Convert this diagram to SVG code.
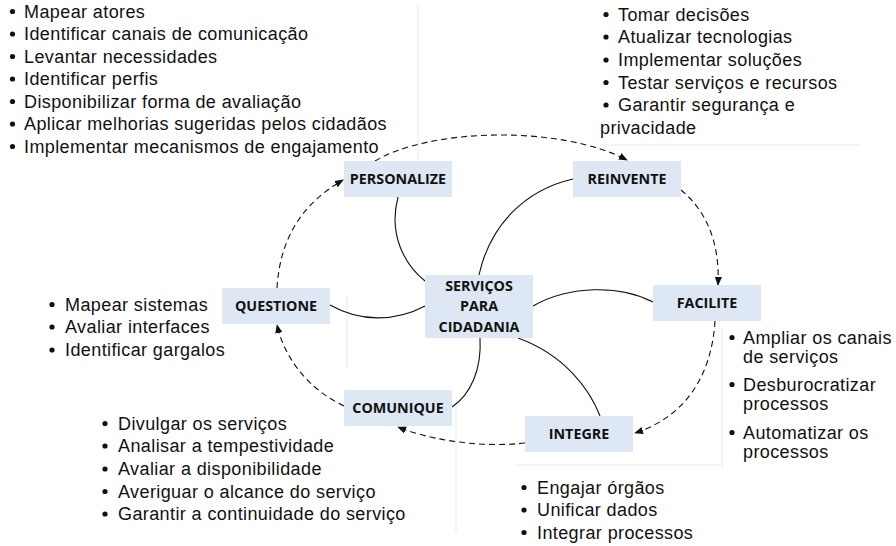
<svg xmlns="http://www.w3.org/2000/svg" width="896" height="546" viewBox="0 0 896 546">
<style>
.bx{fill:#dde8f4;}
.lb{font-family:"Open Sans","DejaVu Sans",sans-serif;font-weight:bold;font-size:14.3px;fill:#111;text-anchor:middle;}
.tx{font-family:"Liberation Sans",Arial,sans-serif;font-size:18px;letter-spacing:0.4px;fill:#111;}
.bl{fill:#111;}
.sl{fill:none;stroke:#111;stroke-width:1.1;}
.dl{fill:none;stroke:#111;stroke-width:1.1;stroke-dasharray:6,4;}
.fb{fill:none;stroke:#e6ecf3;stroke-width:1.2;}
</style>
<defs>
<marker id="ah" viewBox="0 0 10 10" refX="9" refY="5" markerWidth="9" markerHeight="9" markerUnits="userSpaceOnUse" orient="auto">
<path d="M0,1 L10,5 L0,9 Z" fill="#111"/>
</marker>
</defs>
<rect width="896" height="546" fill="#fff"/>

<g id="faint-borders">
<path class="fb" d="M418 5 V160"/>
<path class="fb" d="M600 145 H860"/>
<path class="fb" d="M347 296 V368"/>
<path class="fb" d="M456 400 V532"/>
<path class="fb" d="M515 465 H720"/>
<path class="fb" d="M722 328 V468"/>
</g>

<g id="connectors">
<path class="sl" d="M398 197 C388 235,405 265,425 281"/>
<path class="sl" d="M330 305 C360 322,395 322,425 306"/>
<path class="sl" d="M479 275 C490 225,525 190,573 179"/>
<path class="sl" d="M533 306 C570 285,620 285,653 302"/>
<path class="sl" d="M518 338 C565 355,590 390,600 416"/>
<path class="sl" d="M480 338 C482 370,470 395,452 407"/>
<path class="dl" d="M277 288 C280 240,300 205,343 180" marker-end="url(#ah)"/>
<path class="dl" d="M375 161 C430 128,560 125,627 160" marker-end="url(#ah)"/>
<path class="dl" d="M681 190 C705 210,720 240,718 285" marker-end="url(#ah)"/>
<path class="dl" d="M715 321 C712 370,690 415,635 433" marker-end="url(#ah)"/>
<path class="dl" d="M525 443 C480 448,430 440,398 427" marker-end="url(#ah)"/>
<path class="dl" d="M344 406 C310 390,285 360,277 325" marker-end="url(#ah)"/>
</g>

<g id="personalize">
<rect class="bx" x="344" y="161" width="108" height="36"/>
<text class="lb" x="398" y="184">PERSONALIZE</text>
</g>
<g id="reinvente">
<rect class="bx" x="573" y="161" width="108" height="36"/>
<text class="lb" x="627" y="184">REINVENTE</text>
</g>
<g id="questione">
<rect class="bx" x="222" y="288" width="108" height="36"/>
<text class="lb" x="276" y="311">QUESTIONE</text>
</g>
<g id="servicos">
<rect class="bx" x="425" y="275" width="108" height="63"/>
<text class="lb" x="479" y="290.5">SERVIÇOS</text>
<text class="lb" x="479" y="311">PARA</text>
<text class="lb" x="479" y="331.5">CIDADANIA</text>
</g>
<g id="facilite">
<rect class="bx" x="653" y="285" width="108" height="36"/>
<text class="lb" x="707" y="308">FACILITE</text>
</g>
<g id="comunique">
<rect class="bx" x="344" y="390" width="108" height="36"/>
<text class="lb" x="398" y="413">COMUNIQUE</text>
</g>
<g id="integre">
<rect class="bx" x="525" y="416" width="108" height="36"/>
<text class="lb" x="579" y="439">INTEGRE</text>
</g>

<g id="list-personalize">
<circle class="bl" cx="12.5" cy="11.5" r="2.6"/><text class="tx" x="24" y="17.5">Mapear atores</text>
<circle class="bl" cx="12.5" cy="34" r="2.6"/><text class="tx" x="24" y="40">Identificar canais de comunicação</text>
<circle class="bl" cx="12.5" cy="56.5" r="2.6"/><text class="tx" x="24" y="62.5">Levantar necessidades</text>
<circle class="bl" cx="12.5" cy="79" r="2.6"/><text class="tx" x="24" y="85">Identificar perfis</text>
<circle class="bl" cx="12.5" cy="101.5" r="2.6"/><text class="tx" x="24" y="107.5">Disponibilizar forma de avaliação</text>
<circle class="bl" cx="12.5" cy="124" r="2.6"/><text class="tx" x="24" y="130">Aplicar melhorias sugeridas pelos cidadãos</text>
<circle class="bl" cx="12.5" cy="146.5" r="2.6"/><text class="tx" x="24" y="152.5">Implementar mecanismos de engajamento</text>
</g>

<g id="list-reinvente">
<circle class="bl" cx="606" cy="14.5" r="2.6"/><text class="tx" x="618" y="20.5">Tomar decisões</text>
<circle class="bl" cx="606" cy="37" r="2.6"/><text class="tx" x="618" y="43">Atualizar tecnologias</text>
<circle class="bl" cx="606" cy="60" r="2.6"/><text class="tx" x="618" y="66">Implementar soluções</text>
<circle class="bl" cx="606" cy="82.5" r="2.6"/><text class="tx" x="618" y="88.5">Testar serviços e recursos</text>
<circle class="bl" cx="606" cy="105" r="2.6"/><text class="tx" x="618" y="111">Garantir segurança e</text>
<text class="tx" x="600" y="134">privacidade</text>
</g>

<g id="list-questione">
<circle class="bl" cx="52" cy="304.5" r="2.6"/><text class="tx" x="65" y="310.5">Mapear sistemas</text>
<circle class="bl" cx="52" cy="327" r="2.6"/><text class="tx" x="65" y="333">Avaliar interfaces</text>
<circle class="bl" cx="52" cy="350" r="2.6"/><text class="tx" x="65" y="356">Identificar gargalos</text>
</g>

<g id="list-comunique">
<circle class="bl" cx="105" cy="423.5" r="2.6"/><text class="tx" x="118" y="429.5">Divulgar os serviços</text>
<circle class="bl" cx="105" cy="446" r="2.6"/><text class="tx" x="118" y="452">Analisar a tempestividade</text>
<circle class="bl" cx="105" cy="469" r="2.6"/><text class="tx" x="118" y="475">Avaliar a disponibilidade</text>
<circle class="bl" cx="105" cy="491.5" r="2.6"/><text class="tx" x="118" y="497.5">Averiguar o alcance do serviço</text>
<circle class="bl" cx="105" cy="514" r="2.6"/><text class="tx" x="118" y="520">Garantir a continuidade do serviço</text>
</g>

<g id="list-integre">
<circle class="bl" cx="524" cy="487.5" r="2.6"/><text class="tx" x="537" y="493.5">Engajar órgãos</text>
<circle class="bl" cx="524" cy="510" r="2.6"/><text class="tx" x="537" y="516">Unificar dados</text>
<circle class="bl" cx="524" cy="532.5" r="2.6"/><text class="tx" x="537" y="538.5">Integrar processos</text>
</g>

<g id="list-facilite">
<circle class="bl" cx="732" cy="337.5" r="2.6"/><text class="tx" x="743" y="343.5">Ampliar os canais</text>
<text class="tx" x="743" y="362.5">de serviços</text>
<circle class="bl" cx="732" cy="384.5" r="2.6"/><text class="tx" x="743" y="390.5">Desburocratizar</text>
<text class="tx" x="743" y="410">processos</text>
<circle class="bl" cx="732" cy="432.5" r="2.6"/><text class="tx" x="743" y="438.5">Automatizar os</text>
<text class="tx" x="743" y="458">processos</text>
</g>
</svg>
